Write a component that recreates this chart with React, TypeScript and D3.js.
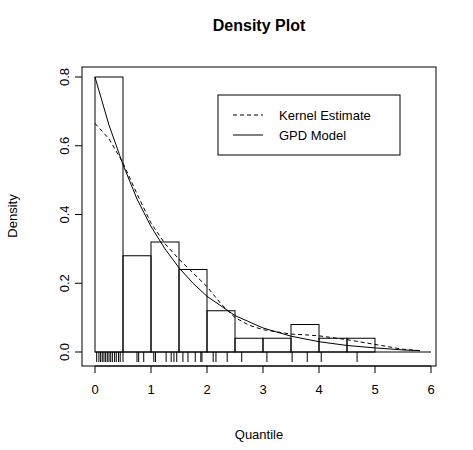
import React from "react";
import * as d3 from "d3";

const binStarts = [0, 0.5, 1, 1.5, 2, 2.5, 3, 3.5, 4, 4.5];
const binHeights = [0.8, 0.28, 0.32, 0.24, 0.12, 0.04, 0.04, 0.08, 0.04, 0.04];
const rug = [0.03, 0.07, 0.1, 0.13, 0.16, 0.19, 0.22, 0.25, 0.28, 0.31, 0.35, 0.38, 0.42, 0.45, 0.5, 0.75, 0.78, 0.87, 1.05, 1.08, 1.27, 1.36, 1.41, 1.46, 1.57, 1.66, 1.79, 1.89, 1.91, 2.11, 2.16, 2.36, 2.62, 3.07, 3.52, 3.79, 4.04, 4.68];
const gpdX = [0, 0.25, 0.5, 0.75, 1, 1.25, 1.5, 1.75, 2, 2.5, 3, 3.5, 4, 4.5, 5, 5.5, 5.8];
const gpdY = [0.8, 0.66, 0.545, 0.445, 0.365, 0.3, 0.245, 0.2, 0.162, 0.106, 0.07, 0.046, 0.03, 0.019, 0.012, 0.006, 0.004];
const kdeX = [0, 0.25, 0.5, 0.75, 1, 1.25, 1.5, 1.75, 2, 2.25, 2.5, 2.75, 3, 3.5, 3.75, 4, 4.5, 5, 5.5, 5.8];
const kdeY = [0.665, 0.62, 0.55, 0.46, 0.375, 0.315, 0.27, 0.23, 0.19, 0.14, 0.1, 0.078, 0.065, 0.052, 0.05, 0.047, 0.036, 0.022, 0.008, 0.004];
const xTicks = [0, 1, 2, 3, 4, 5, 6];
const yTicks = [0, 0.2, 0.4, 0.6, 0.8];

export default function App() {
  const x = d3.scaleLinear().domain([0, 6]).range([95, 431]);
  const y = d3.scaleLinear().domain([0, 0.8]).range([352, 77]);
  const line = d3.line<number>().x((d, i) => d).y((d) => d);
  const path = (xs: number[], ys: number[]) =>
    d3.line<number>().x((d) => x(d)).y((_, i) => y(ys[i]))(xs) || "";
  void line;
  const font = "Liberation Sans, Arial, sans-serif";
  return (
    <svg width={473} height={450} style={{ position: "absolute", left: 0, top: 0 }} fontFamily={font}>
      <rect width={473} height={450} fill="#fff" />
      <text x={259} y={31} textAnchor="middle" fontSize={16} fontWeight="bold">Density Plot</text>
      <rect x={82} y={67} width={354} height={299} fill="none" stroke="#000" />
      {binStarts.map((b, i) => (
        <rect key={i} x={x(b)} y={y(binHeights[i])} width={x(b + 0.5) - x(b)} height={y(0) - y(binHeights[i])} fill="none" stroke="#000" />
      ))}
      {rug.map((r, i) => (
        <line key={i} x1={x(r)} x2={x(r)} y1={352} y2={362} stroke="#000" />
      ))}
      <line x1={x(0)} x2={x(6)} y1={352} y2={352} stroke="#000" />
      <path d={path(gpdX, gpdY)} fill="none" stroke="#000" />
      <path d={path(kdeX, kdeY)} fill="none" stroke="#000" strokeDasharray="4,3" />
      <line x1={x(0)} x2={x(6)} y1={366} y2={366} stroke="#000" />
      {xTicks.map((t) => (
        <g key={t}>
          <line x1={x(t)} x2={x(t)} y1={366} y2={373} stroke="#000" />
          <text x={x(t)} y={394} textAnchor="middle" fontSize={13}>{t}</text>
        </g>
      ))}
      {yTicks.map((t) => (
        <g key={t}>
          <line x1={75} x2={82} y1={y(t)} y2={y(t)} stroke="#000" />
          <text transform={`translate(69,${y(t)}) rotate(-90)`} textAnchor="middle" fontSize={13}>{t.toFixed(1)}</text>
        </g>
      ))}
      <text x={259} y={439} textAnchor="middle" fontSize={13}>Quantile</text>
      <text transform="translate(17,216) rotate(-90)" textAnchor="middle" fontSize={13}>Density</text>
      <rect x={218} y={95} width={182} height={60} fill="#fff" stroke="#000" />
      <line x1={233} x2={263} y1={115} y2={115} stroke="#000" strokeDasharray="4,3" />
      <line x1={233} x2={263} y1={135} y2={135} stroke="#000" />
      <text x={279} y={120} fontSize={13}>Kernel Estimate</text>
      <text x={279} y={140} fontSize={13}>GPD Model</text>
    </svg>
  );
}
